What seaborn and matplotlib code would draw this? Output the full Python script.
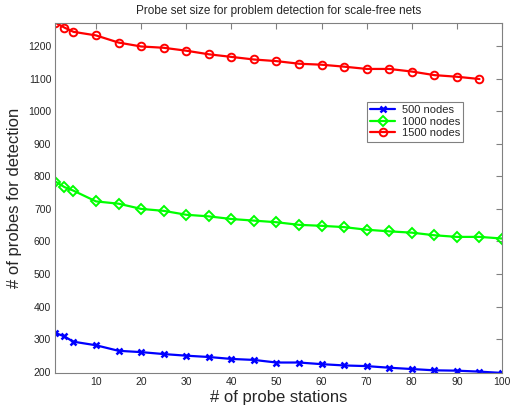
import matplotlib
matplotlib.use("Agg")
import matplotlib.pyplot as plt
import seaborn as sns
import pandas as pd

# Number of probe stations
stations_red = [1, 3, 5, 10, 15, 20, 25, 30, 35, 40, 45, 50, 55, 60, 65, 70, 75, 80, 85, 90, 95]
stations = [1, 3, 5, 10, 15, 20, 25, 30, 35, 40, 45, 50, 55, 60, 65, 70, 75, 80, 85, 90, 95, 100]

# Probes needed for detection
probes_500 = [319, 308, 292, 281, 264, 260, 254, 249, 245, 239, 236, 228, 228,
              223, 219, 217, 212, 208, 204, 203, 200, 196]
probes_1000 = [784, 767, 756, 723, 716, 700, 694, 682, 677, 669, 664, 659, 651,
               648, 644, 636, 631, 627, 619, 614, 614, 609]
probes_1500 = [1272, 1257, 1244, 1233, 1211, 1199, 1195, 1186, 1175, 1167, 1159,
               1154, 1146, 1143, 1137, 1130, 1130, 1122, 1111, 1106, 1099]

labels = ["500 nodes", "1000 nodes", "1500 nodes"]
x_ticks = [10, 20, 30, 40, 50, 60, 70, 80, 90, 100]
y_ticks = [200, 300, 400, 500, 600, 700, 800, 900, 1000, 1100, 1200]

sns.set_theme(style="white")
plt.rcParams["font.family"] = ["Liberation Sans", "DejaVu Sans"]

fig = plt.figure(figsize=(5.13, 4.13), dpi=100)
ax = fig.add_axes([0.108, 0.097, 0.8706, 0.848])

series = [
    (stations, probes_500, labels[0], "#0000ff", "x", dict(markersize=4.5, markeredgewidth=1.8)),
    (stations, probes_1000, labels[1], "#00ff00", "D", dict(markersize=4.8, markeredgewidth=1.4, markerfacecolor="none")),
    (stations_red, probes_1500, labels[2], "#ff0000", "o", dict(markersize=5.5, markeredgewidth=1.4, markerfacecolor="none")),
]
for xs, ys, lab, col, mk, kw in series:
    df = pd.DataFrame({"stations": xs, "probes": ys})
    sns.lineplot(data=df, x="stations", y="probes", ax=ax, color=col, marker=mk,
                 markeredgecolor=col, linewidth=1.6, label=lab, **kw)

all_vals = probes_500 + probes_1000 + probes_1500
ax.set_xlim(1, 100)
ax.set_ylim(min(all_vals), max(all_vals))
ax.set_xticks(x_ticks)
ax.set_yticks(y_ticks)

for s in ax.spines.values():
    s.set_color("#808080")
    s.set_linewidth(0.8)
ax.tick_params(direction="in", length=4, width=0.8, color="#808080",
               labelsize=7.5, top=True, right=True, labeltop=False, labelright=False,
               pad=3)

ax.set_xlabel("# of probe stations", fontsize=12, labelpad=2)
ax.set_ylabel("# of probes for detection", fontsize=12, labelpad=4)
ax.set_title("Probe set size for problem detection for scale-free nets", fontsize=8.5, pad=6)

leg = ax.legend(loc="upper left", bbox_to_anchor=(0.698, 0.775), fontsize=8,
                frameon=True, fancybox=False, framealpha=1, borderpad=0.3,
                labelspacing=0.15, handlelength=2.2, handletextpad=0.6,
                borderaxespad=0)
leg.get_frame().set_edgecolor("#808080")
leg.get_frame().set_linewidth(0.8)

fig.savefig("out.png", dpi=100)
